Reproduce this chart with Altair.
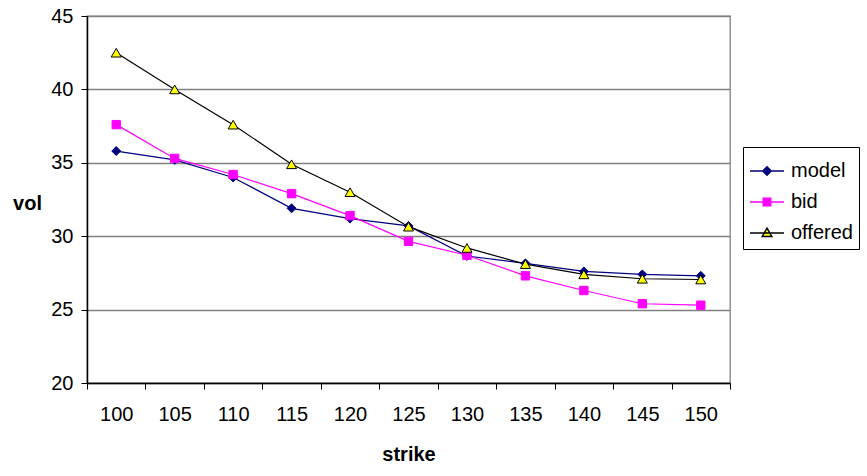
import altair as alt
import pandas as pd

strikes = [100, 105, 110, 115, 120, 125, 130, 135, 140, 145, 150]
model = [35.8, 35.2, 34.0, 31.9, 31.2, 30.7, 28.65, 28.15, 27.6, 27.4, 27.3]
bid = [37.6, 35.3, 34.2, 32.9, 31.4, 29.65, 28.7, 27.3, 26.3, 25.4, 25.3]
offered = [42.5, 40.0, 37.6, 34.9, 33.0, 30.65, 29.2, 28.1, 27.4, 27.1, 27.05]

series = ["model", "bid", "offered"]
line_colors = ["#000080", "#FF00FF", "#000000"]
fill_colors = ["#000080", "#FF00FF", "#FFFF00"]
legend_paths = [
    "M-1,0H1M0,-0.25L0.25,0L0,0.25L-0.25,0Z",
    "M-1,0H1M-0.22,-0.22H0.22V0.22H-0.22Z",
    "M-1,0H1M0,-0.28L0.28,0.2H-0.28Z",
]

rows = []
for name, vals in zip(series, [model, bid, offered]):
    for s, v in zip(strikes, vals):
        rows.append({"strike": s, "vol": v, "series": name})
df = pd.DataFrame(rows)

FONT = "Liberation Sans"

x = alt.X(
    "strike:O",
    title="strike",
    bandPosition=0.5,
    scale=alt.Scale(type="band", paddingInner=0, paddingOuter=0),
    axis=alt.Axis(
        labelAngle=0, tickBand="extent", grid=False, tickSize=6,
        labelPadding=15, labelFontSize=20, labelFont=FONT, labelColor="#000",
        titleFontSize=20, titleFont=FONT, titleFontWeight="bold", titleColor="#000",
        titleY=71, titleBaseline="middle",
        domainColor="#000", tickColor="#000", domainWidth=1.5,
    ),
)
y = alt.Y(
    "vol:Q",
    title="vol",
    scale=alt.Scale(domain=[20, 45], nice=False, zero=False),
    axis=alt.Axis(
        values=[20, 25, 30, 35, 40, 45], grid=True, gridColor="#808080", gridWidth=1.3,
        tickSize=6, labelPadding=8, labelFontSize=20, labelFont=FONT, labelColor="#000",
        titleFontSize=20, titleFont=FONT, titleFontWeight="bold", titleColor="#000",
        titleAngle=0, titleX=-60, titleY=187, titleAlign="center", titleBaseline="middle",
        domainColor="#000", tickColor="#000", domainWidth=1.5,
    ),
)

base = alt.Chart(df)

lines = base.mark_line(strokeWidth=1.2).encode(
    x=x, y=y,
    stroke=alt.Stroke("series:N", scale=alt.Scale(domain=series, range=line_colors)),
    detail="series:N",
)

shapes = ["diamond", "square", "triangle-up"]
sizes = [80, 70, 100]
point_layers = []
for name, shp, lc, fc, sz in zip(series, shapes, line_colors, fill_colors, sizes):
    point_layers.append(
        base.transform_filter(alt.datum.series == name)
        .mark_point(shape=shp, filled=True, fill=fc, stroke=lc, strokeWidth=1, size=sz, opacity=1)
        .encode(x=x, y=y)
    )

legend_layer = base.transform_filter("datum.vol < 0").mark_point(filled=True, opacity=1).encode(
    x=x, y=y,
    shape=alt.Shape("series:N", scale=alt.Scale(domain=series, range=legend_paths)),
    fill=alt.Fill("series:N", scale=alt.Scale(domain=series, range=fill_colors)),
)

chart = alt.layer(lines, *point_layers, legend_layer).properties(
    width=643, height=367,
    padding={"left": 12, "top": 6, "right": 0, "bottom": 0},
    background="#ffffff",
).configure_view(stroke="#808080", strokeWidth=1.3).configure_legend(
    orient="none", legendX=656, legendY=131, title=None,
    strokeColor="#000", fillColor="#fff", padding=6,
    labelFontSize=20, labelFont=FONT, labelColor="#000", labelOffset=6,
    symbolOpacity=1, symbolStrokeWidth=1.5, symbolSize=1156, rowPadding=3,
)

chart.save("out.html", embed_options={"renderer": "svg", "actions": False})
